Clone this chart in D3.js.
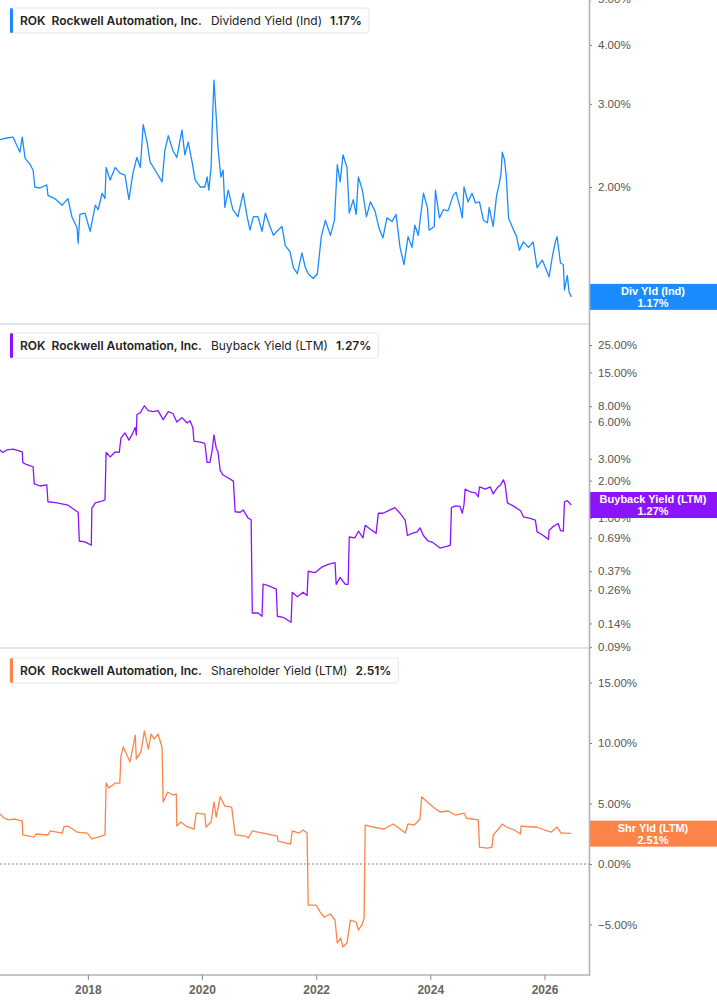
<!DOCTYPE html>
<html><head><meta charset="utf-8">
<script src="https://cdn.jsdelivr.net/npm/d3@7"></script>
<style>
html,body{margin:0;padding:0;background:#fff;}
svg{display:block;font-family:"Liberation Sans",Arial,sans-serif;}
</style></head>
<body><svg id="c" width="717" height="1005"></svg>
<script>
// ---------- DATA ----------
const company = "Rockwell Automation, Inc.";
const ticker = "ROK";
const xTickYears = [2018, 2020, 2022, 2024, 2026];

const divYears = [2016.46,2016.58,2016.69,2016.81,2016.85,2016.90,2016.99,2017.04,2017.07,2017.16,2017.28,2017.30,2017.42,2017.55,2017.65,2017.72,2017.81,2017.83,2017.86,2017.95,2018.04,2018.13,2018.18,2018.25,2018.30,2018.32,2018.39,2018.48,2018.56,2018.65,2018.72,2018.79,2018.86,2018.92,2018.97,2019.04,2019.09,2019.18,2019.30,2019.35,2019.41,2019.49,2019.56,2019.65,2019.70,2019.76,2019.83,2019.88,2019.97,2020.05,2020.09,2020.12,2020.16,2020.18,2020.21,2020.25,2020.28,2020.33,2020.37,2020.40,2020.46,2020.54,2020.63,2020.72,2020.79,2020.84,2020.90,2020.98,2021.05,2021.11,2021.19,2021.25,2021.33,2021.40,2021.46,2021.54,2021.60,2021.67,2021.75,2021.81,2021.86,2021.95,2022.02,2022.09,2022.16,2022.25,2022.32,2022.37,2022.42,2022.47,2022.54,2022.58,2022.65,2022.70,2022.74,2022.81,2022.88,2022.95,2023.03,2023.10,2023.17,2023.24,2023.33,2023.40,2023.47,2023.54,2023.61,2023.68,2023.73,2023.79,2023.88,2023.95,2023.98,2024.07,2024.09,2024.16,2024.23,2024.31,2024.40,2024.45,2024.52,2024.56,2024.59,2024.66,2024.73,2024.79,2024.86,2024.93,2025.00,2025.03,2025.10,2025.16,2025.21,2025.24,2025.26,2025.30,2025.33,2025.37,2025.44,2025.51,2025.56,2025.63,2025.72,2025.80,2025.87,2025.96,2026.05,2026.08,2026.14,2026.19,2026.22,2026.28,2026.33,2026.35,2026.40,2026.43,2026.47];
const divValues = [2.52,2.54,2.55,2.37,2.55,2.30,2.23,2.17,2.00,1.99,2.02,1.92,1.89,1.83,1.89,1.73,1.64,1.52,1.75,1.76,1.61,1.83,1.79,1.94,1.89,2.20,2.07,2.20,2.14,2.12,1.88,2.14,2.31,2.20,2.71,2.48,2.26,2.17,2.05,2.39,2.57,2.39,2.31,2.64,2.34,2.49,2.25,2.07,2.00,2.00,2.10,1.97,2.20,2.68,3.37,2.81,2.43,2.10,2.17,1.81,1.97,1.79,1.73,1.94,1.73,1.62,1.73,1.73,1.61,1.76,1.65,1.58,1.62,1.65,1.50,1.46,1.35,1.31,1.45,1.35,1.31,1.28,1.31,1.57,1.70,1.58,1.70,2.23,2.05,2.34,2.20,1.76,1.88,1.75,2.10,1.97,1.73,1.86,1.78,1.64,1.56,1.72,1.69,1.75,1.49,1.37,1.57,1.49,1.66,1.58,1.94,1.81,1.62,1.65,1.97,1.72,1.79,1.78,1.92,1.95,1.81,1.72,2.00,1.86,1.94,1.85,1.86,1.70,1.68,1.81,1.65,1.92,2.04,2.15,2.37,2.28,2.10,1.72,1.64,1.57,1.47,1.53,1.49,1.53,1.35,1.40,1.32,1.29,1.43,1.53,1.57,1.38,1.37,1.21,1.30,1.20,1.17];

const buyYears = [2016.46,2016.51,2016.58,2016.69,2016.81,2016.85,2016.86,2016.93,2017.04,2017.06,2017.16,2017.28,2017.30,2017.46,2017.65,2017.72,2017.83,2017.85,2017.95,2018.06,2018.07,2018.13,2018.21,2018.30,2018.32,2018.39,2018.48,2018.55,2018.58,2018.65,2018.72,2018.79,2018.83,2018.85,2018.86,2018.92,2018.99,2019.06,2019.14,2019.23,2019.32,2019.41,2019.49,2019.56,2019.65,2019.74,2019.79,2019.84,2019.86,2019.97,2020.05,2020.09,2020.14,2020.18,2020.21,2020.25,2020.28,2020.32,2020.37,2020.46,2020.55,2020.58,2020.67,2020.72,2020.81,2020.86,2020.88,2020.98,2021.05,2021.07,2021.16,2021.30,2021.32,2021.42,2021.56,2021.58,2021.67,2021.77,2021.84,2021.86,2021.98,2022.10,2022.21,2022.33,2022.35,2022.42,2022.51,2022.56,2022.58,2022.68,2022.74,2022.82,2022.86,2022.95,2023.05,2023.09,2023.17,2023.26,2023.38,2023.47,2023.56,2023.60,2023.68,2023.77,2023.82,2023.88,2023.96,2024.05,2024.17,2024.30,2024.35,2024.37,2024.44,2024.52,2024.56,2024.59,2024.61,2024.70,2024.79,2024.84,2024.86,2024.96,2025.05,2025.10,2025.17,2025.23,2025.28,2025.31,2025.35,2025.45,2025.58,2025.63,2025.75,2025.84,2025.87,2025.96,2026.07,2026.08,2026.15,2026.24,2026.28,2026.33,2026.35,2026.40,2026.47];
const buyValues = [3.54,3.38,3.54,3.60,3.47,3.42,2.80,2.69,2.59,1.88,1.81,1.85,1.35,1.32,1.27,1.20,1.11,0.65,0.64,0.60,1.20,1.32,1.35,1.40,3.38,3.11,3.42,3.38,4.42,4.87,4.25,4.87,5.38,4.68,6.85,7.10,8.06,7.37,7.23,7.37,6.23,7.23,6.98,5.96,6.47,5.85,6.09,5.38,4.17,4.09,4.01,2.81,2.81,3.54,4.68,3.66,3.42,2.41,2.22,2.10,1.98,1.12,1.11,1.16,0.99,0.97,0.170,0.170,0.160,0.291,0.283,0.265,0.160,0.157,0.143,0.25,0.23,0.25,0.235,0.37,0.36,0.40,0.42,0.435,0.29,0.33,0.29,0.29,0.70,0.69,0.78,0.69,0.87,0.81,0.75,1.09,1.09,1.14,1.21,1.09,0.96,0.72,0.75,0.77,0.83,0.72,0.65,0.63,0.57,0.59,0.60,1.21,1.25,1.24,1.09,1.28,1.71,1.62,1.59,1.48,1.78,1.71,1.78,1.56,1.75,1.85,2.03,1.85,1.32,1.25,1.14,1.02,0.99,0.96,0.77,0.73,0.67,0.79,0.85,0.90,0.79,0.78,1.35,1.38,1.27];

const shrYears = [2016.46,2016.53,2016.62,2016.72,2016.85,2016.86,2017.06,2017.09,2017.30,2017.34,2017.55,2017.58,2017.65,2017.81,2017.99,2018.07,2018.18,2018.30,2018.32,2018.37,2018.48,2018.56,2018.58,2018.62,2018.74,2018.83,2018.85,2018.93,2018.99,2019.06,2019.11,2019.16,2019.23,2019.30,2019.32,2019.40,2019.49,2019.55,2019.56,2019.63,2019.72,2019.86,2019.90,2020.05,2020.07,2020.16,2020.21,2020.25,2020.32,2020.40,2020.52,2020.58,2020.76,2020.81,2020.88,2021.07,2021.32,2021.33,2021.55,2021.58,2021.70,2021.77,2021.84,2021.86,2022.00,2022.07,2022.14,2022.25,2022.33,2022.37,2022.43,2022.47,2022.54,2022.60,2022.70,2022.74,2022.81,2022.84,2022.86,2022.99,2023.19,2023.35,2023.45,2023.56,2023.61,2023.72,2023.82,2023.85,2023.95,2024.05,2024.17,2024.31,2024.44,2024.59,2024.63,2024.73,2024.84,2024.86,2025.00,2025.08,2025.10,2025.21,2025.26,2025.33,2025.47,2025.58,2025.59,2025.77,2025.86,2026.00,2026.12,2026.22,2026.29,2026.42,2026.47];
const shrValues = [4.13,3.80,3.64,3.72,3.55,2.40,2.23,2.48,2.40,2.73,2.56,3.06,3.14,2.64,2.56,2.07,2.23,2.40,6.69,6.28,6.69,6.69,8.93,9.67,8.43,10.66,8.68,9.26,10.99,9.50,10.74,10.33,10.74,9.67,5.12,5.95,5.70,5.79,3.14,3.47,3.14,2.89,4.21,4.13,3.06,3.47,5.12,3.88,5.54,4.79,4.71,2.40,2.31,2.15,2.73,2.56,2.31,1.90,1.65,2.73,2.56,2.81,2.56,-3.39,-3.39,-3.97,-4.38,-4.13,-4.63,-6.53,-6.12,-6.86,-6.53,-4.63,-4.79,-5.45,-4.96,-4.46,3.22,3.06,2.89,3.31,2.98,2.56,3.31,3.22,3.72,5.54,5.12,4.71,4.30,4.38,4.05,4.21,3.80,3.72,3.64,1.40,1.32,1.40,2.40,2.98,3.31,3.06,2.81,2.48,3.14,3.06,3.06,2.81,2.64,3.06,2.56,2.56,2.51];

const divTicks = [2, 3, 4, 5];
const buyTicks = [0.09, 0.14, 0.26, 0.37, 0.69, 1, 2, 3, 6, 8, 15, 25];
const shrTicks = [-5, 0, 5, 10, 15];

const panels = [
  {metric:"Dividend Yield (Ind)", short:"Div Yld (Ind)", years:divYears, values:divValues, ticks:divTicks, color:"#1a8cff", log:true, domain:[1.025, 4.98], top:0, bottom:324, legendY:8, zero:false},
  {metric:"Buyback Yield (LTM)", short:"Buyback Yield (LTM)", years:buyYears, values:buyValues, ticks:buyTicks, color:"#8c14fc", log:true, domain:[0.0886, 36.97], top:324, bottom:648, legendY:333, zero:false},
  {metric:"Shareholder Yield (LTM)", short:"Shr Yld (LTM)", years:shrYears, values:shrValues, ticks:shrTicks, color:"#fd8448", log:false, domain:[-9.17, 17.85], top:648, bottom:975, legendY:658, zero:true}
];

// ---------- HELPERS ----------
function toDate(y){
  const yr = Math.floor(y), f = y - yr;
  const a = Date.UTC(yr,0,1), b = Date.UTC(yr+1,0,1);
  return new Date(a + f*(b-a));
}
const plotW = 589;
const svg = d3.select("#c");
const x = d3.scaleUtc().domain([toDate(2016.461), toDate(2026.78)]).range([0, plotW]);
const fmt = v => d3.format(".2f")(v) + "%";

// ---------- PANELS ----------
panels.forEach((p, i) => {
  const y = (p.log ? d3.scaleLog() : d3.scaleLinear()).domain(p.domain).range([p.bottom, p.top]);
  const data = p.years.map((yr, k) => ({d: toDate(yr), v: p.values[k]}));
  const g = svg.append("g");

  const clipId = "clip" + i;
  svg.append("clipPath").attr("id", clipId).append("rect")
    .attr("x", 0).attr("y", p.top).attr("width", plotW).attr("height", p.bottom - p.top);

  if (p.zero) {
    g.append("line").attr("x1", 0).attr("x2", plotW).attr("y1", y(0)).attr("y2", y(0))
      .attr("stroke", "#8a8a8a").attr("stroke-width", 1.2).attr("stroke-dasharray", "2,2");
  }

  g.append("path").datum(data)
    .attr("clip-path", `url(#${clipId})`)
    .attr("fill", "none").attr("stroke", p.color).attr("stroke-width", 1.3)
    .attr("stroke-linejoin", "round")
    .attr("d", d3.line().x(d => x(d.d)).y(d => y(d.v)));

  // panel bottom separator
  g.append("line").attr("x1", 0).attr("x2", plotW + 1).attr("y1", p.bottom).attr("y2", p.bottom)
    .attr("stroke", i === 2 ? "#b3b3b3" : "#c8c8c8").attr("stroke-width", i === 2 ? 1.5 : 1);

  // right axis
  const ax = g.append("g").attr("transform", `translate(${plotW},0)`)
    .call(d3.axisRight(y).tickValues(p.ticks).tickFormat(fmt).tickSize(3).tickPadding(6));
  ax.select(".domain").remove();
  ax.selectAll(".tick line").attr("stroke", "#777");
  ax.selectAll(".tick text").attr("fill", "#555").style("font-size", "11.5px")
    .style("font-family", "'Liberation Sans',Arial,sans-serif");

  // last value badge
  const last = data[data.length - 1];
  const cy = y(last.v);
  const bg = g.append("g");
  bg.append("rect").attr("x", plotW + 1).attr("y", cy - 13).attr("width", 717 - plotW).attr("height", 26)
    .attr("fill", p.color);
  bg.append("text").attr("x", 653).attr("y", cy - 2).attr("text-anchor", "middle")
    .attr("fill", "#fff").style("font-size", "11px").style("font-weight", "bold").text(p.short);
  bg.append("text").attr("x", 653).attr("y", cy + 10).attr("text-anchor", "middle")
    .attr("fill", "#fff").style("font-size", "11px").style("font-weight", "bold").text(fmt(last.v));

  // legend
  const lg = svg.append("g").attr("transform", `translate(10,${p.legendY})`);
  const box = lg.append("rect").attr("x", 0).attr("y", 0).attr("height", 25).attr("rx", 3)
    .attr("fill", "#fff").attr("stroke", "#e6e6e6").attr("stroke-width", 1);
  lg.append("rect").attr("x", 0).attr("y", 0).attr("width", 3).attr("height", 25).attr("rx", 1.5)
    .attr("fill", p.color);
  const parts = [
    {t: ticker, w: 600, gap: 6},
    {t: company, w: 600, gap: 9},
    {t: p.metric, w: 400, gap: 8},
    {t: fmt(last.v), w: 600, gap: 0}
  ];
  let cx = 10;
  parts.forEach(pt => {
    const t = lg.append("text").attr("x", cx).attr("y", 17)
      .attr("fill", "#222").style("font-family", "Inter, 'Noto Sans', sans-serif")
      .style("font-size", "12px").style("font-weight", pt.w).text(pt.t);
    cx += t.node().getComputedTextLength() + pt.gap;
  });
  box.attr("width", cx + 7);
});

// right axis line
svg.append("line").attr("x1", plotW + 0.5).attr("x2", plotW + 0.5).attr("y1", 0).attr("y2", 976)
  .attr("stroke", "#b3b3b3").attr("stroke-width", 1.6);

// x axis
const xa = svg.append("g").attr("transform", "translate(0,975)")
  .call(d3.axisBottom(x).tickValues(xTickYears.map(v => toDate(v))).tickFormat(d3.utcFormat("%Y")).tickSize(5).tickPadding(5));
xa.select(".domain").remove();
xa.selectAll(".tick line").attr("stroke", "#888");
xa.selectAll(".tick text").attr("fill", "#666").style("font-size", "12px").style("font-weight", "bold")
  .style("font-family", "'Liberation Sans',Arial,sans-serif");
</script></body></html>
